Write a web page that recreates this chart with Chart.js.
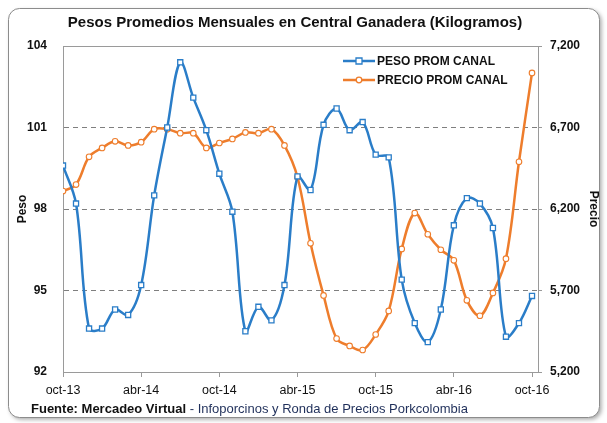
<!DOCTYPE html>
<html>
<head>
<meta charset="utf-8">
<script src="https://cdn.jsdelivr.net/npm/chart.js@4.4.0/dist/chart.umd.min.js"></script>
<style>
  body { margin: 0; background: #fff; }
  #wrap { width: 607px; height: 423px; position: relative; }
</style>
</head>
<body>
<div id="wrap"><canvas id="grafico" width="607" height="423"></canvas></div>
<script>
// meses oct-13 .. oct-16
var meses = ['oct-13','nov-13','dic-13','ene-14','feb-14','mar-14','abr-14','may-14','jun-14','jul-14','ago-14','sep-14',
  'oct-14','nov-14','dic-14','ene-15','feb-15','mar-15','abr-15','may-15','jun-15','jul-15','ago-15','sep-15',
  'oct-15','nov-15','dic-15','ene-16','feb-16','mar-16','abr-16','may-16','jun-16','jul-16','ago-16','sep-16','oct-16'];

var pesoPromCanal = [99.6, 98.2, 93.6, 93.6, 94.3, 94.1, 95.2, 98.5, 101.0, 103.4, 102.1, 100.9,
  99.3, 97.9, 93.5, 94.4, 93.9, 95.2, 99.2, 98.7, 101.1, 101.7, 100.9, 101.2,
  100.0, 99.9, 95.4, 93.8, 93.1, 94.3, 97.4, 98.4, 98.2, 97.3, 93.3, 93.8, 94.8];

var precioPromCanal = [6310, 6350, 6520, 6575, 6615, 6590, 6610, 6690, 6690, 6665, 6665, 6575,
  6605, 6630, 6670, 6665, 6690, 6590, 6395, 5990, 5670, 5405, 5360, 5335,
  5430, 5575, 5955, 6175, 6045, 5950, 5885, 5640, 5545, 5685, 5895, 6490, 7035];

var ticksPeso = [92, 95, 98, 101, 104];
var ticksPrecio = [5200, 5700, 6200, 6700, 7200];
var ticksMeses = [0, 6, 12, 18, 24, 30, 36];

var azul = '#2a7dc8';
var naranja = '#ee7d2c';
var fuente = '"Liberation Sans", Arial, sans-serif';

function puntos(serie) {
  return serie.map(function(v, i) { return { x: i, y: v }; });
}

// marco redondeado, titulo, leyenda y pie
var decoracion = {
  id: 'decoracion',
  beforeDraw: function(chart) {
    var c = chart.ctx;
    c.save();
    c.fillStyle = '#fff';
    c.fillRect(0, 0, chart.width, chart.height);
    c.shadowColor = 'rgba(0,0,0,0.35)';
    c.shadowBlur = 4;
    c.shadowOffsetX = 2;
    c.shadowOffsetY = 2;
    c.beginPath();
    c.roundRect(8.5, 8.5, 591, 409, 11);
    c.fillStyle = '#fff';
    c.fill();
    c.shadowColor = 'transparent';
    c.strokeStyle = '#8c8c8c';
    c.lineWidth = 1;
    c.stroke();

    c.fillStyle = '#111';
    c.font = 'bold 15px ' + fuente;
    c.textAlign = 'center';
    c.textBaseline = 'middle';
    c.fillText('Pesos Promedios Mensuales en Central Ganadera (Kilogramos)', 295, 23);

    c.textAlign = 'left';
    c.font = 'bold 13px ' + fuente;
    var t1 = 'Fuente: Mercadeo Virtual';
    c.fillText(t1, 31, 409);
    var w = c.measureText(t1).width;
    c.font = '13px ' + fuente;
    c.fillStyle = '#1f2f5a';
    c.fillText(' - Infoporcinos y Ronda de Precios Porkcolombia', 31 + w, 409);
    c.restore();
  },
  beforeDatasetsDraw: function(chart) {
    var a = chart.chartArea, c = chart.ctx;
    c.save();
    c.strokeStyle = '#9a9a9a';
    c.lineWidth = 1;
    c.strokeRect(Math.round(a.left) + 0.5, Math.round(a.top) + 0.5, Math.round(a.right - a.left), Math.round(a.bottom - a.top));
    c.restore();
  },
  afterDraw: function(chart) {
    var c = chart.ctx;
    c.save();
    chart.data.datasets.forEach(function(ds, k) {
      var y = 61 + k * 19;
      c.strokeStyle = ds.borderColor;
      c.lineWidth = 2.5;
      c.beginPath();
      c.moveTo(343, y);
      c.lineTo(375, y);
      c.stroke();
      c.fillStyle = '#fff';
      c.lineWidth = 1.3;
      c.beginPath();
      if (ds.pointStyle === 'rect') {
        c.rect(356, y - 3, 6, 6);
      } else {
        c.arc(359, y, 2.8, 0, Math.PI * 2);
      }
      c.fill();
      c.stroke();
      c.fillStyle = '#111';
      c.font = 'bold 12px ' + fuente;
      c.textAlign = 'left';
      c.textBaseline = 'middle';
      c.fillText(ds.label, 377, y + 1);
    });
    c.restore();
  }
};

new Chart(document.getElementById('grafico'), {
  type: 'line',
  data: {
    datasets: [
      {
        label: 'PESO PROM CANAL',
        data: puntos(pesoPromCanal),
        yAxisID: 'y',
        borderColor: azul,
        borderWidth: 2.5,
        pointStyle: 'rect',
        pointRadius: 3.6,
        pointBorderWidth: 1.3,
        pointBackgroundColor: '#fff',
        pointBorderColor: azul,
        tension: 0.35
      },
      {
        label: 'PRECIO PROM CANAL',
        data: puntos(precioPromCanal),
        yAxisID: 'y1',
        borderColor: naranja,
        borderWidth: 2.5,
        pointStyle: 'circle',
        pointRadius: 2.8,
        pointBorderWidth: 1.1,
        pointBackgroundColor: '#fff',
        pointBorderColor: naranja,
        tension: 0.35
      }
    ]
  },
  options: {
    responsive: false,
    animation: false,
    layout: { padding: { left: 11, right: 2, top: 46, bottom: 28 } },
    plugins: {
      legend: { display: false },
      tooltip: { enabled: false }
    },
    scales: {
      x: {
        type: 'linear',
        min: 0,
        max: 36.46,
        afterBuildTicks: function(s) { s.ticks = ticksMeses.map(function(v) { return { value: v }; }); },
        afterFit: function(s) { s.height = 23; },
        grid: { drawOnChartArea: false, drawTicks: true, tickLength: 5, color: '#9a9a9a' },
        border: { color: '#9a9a9a' },
        ticks: {
          padding: 6,
          maxRotation: 0,
          autoSkip: false,
          color: '#111',
          font: { family: fuente, size: 12.5 },
          callback: function(v) { return meses[v]; }
        }
      },
      y: {
        position: 'left',
        min: 92,
        max: 104,
        afterBuildTicks: function(s) { s.ticks = ticksPeso.map(function(v) { return { value: v }; }); },
        afterFit: function(s) { s.width = 52; },
        grid: {
          drawTicks: false,
          color: function(ctx) {
            var v = ctx.tick && ctx.tick.value;
            return (v === 92 || v === 104) ? 'rgba(0,0,0,0)' : '#7f7f7f';
          },
          lineWidth: 1
        },
        border: { color: '#9a9a9a', dash: [5, 4] },
        ticks: { padding: 16, color: '#111', font: { family: fuente, size: 12, weight: 'bold' } },
        title: { display: true, text: 'Peso', color: '#111', font: { family: fuente, size: 12, weight: 'bold' }, padding: 4 }
      },
      y1: {
        position: 'right',
        min: 5200,
        max: 7200,
        afterBuildTicks: function(s) { s.ticks = ticksPrecio.map(function(v) { return { value: v }; }); },
        afterFit: function(s) { s.width = 67; },
        grid: { drawOnChartArea: false, drawTicks: true, tickLength: 4, color: '#9a9a9a' },
        border: { color: '#9a9a9a' },
        ticks: {
          padding: 8,
          color: '#111',
          font: { family: fuente, size: 12, weight: 'bold' },
          callback: function(v) { return v.toLocaleString('en-US'); }
        },
        title: { display: true, text: 'Precio', color: '#111', font: { family: fuente, size: 12, weight: 'bold' }, padding: 4 }
      }
    }
  },
  plugins: [decoracion]
});
</script>
</body>
</html>
